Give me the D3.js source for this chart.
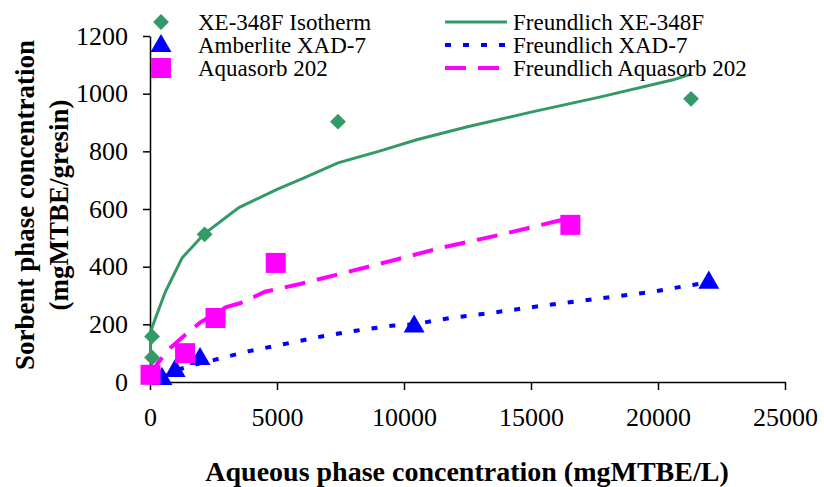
<!DOCTYPE html>
<html>
<head>
<meta charset="utf-8">
<script src="https://cdn.jsdelivr.net/npm/d3@7"></script>
<style>
  body { margin: 0; background: white; }
  svg text { font-family: "Liberation Serif", "Times New Roman", serif; }
</style>
</head>
<body>
<div id="container"></div>
<script>
const xeC = [80, 80, 2150, 7400, 21300]
const xeQ = [85, 158, 512, 903, 982]
const xadC = [470, 990, 1970, 10400, 22000]
const xadQ = [14, 42, 83, 196, 348]
const aquaC = [20, 1380, 2580, 4950, 16550]
const aquaQ = [25, 100, 222, 413, 545]

// Freundlich fit lines
const fitXeC = [10, 40, 600, 1260, 2150, 3500, 5000, 6000, 7400, 9000, 10500, 12500, 15000, 17700, 20600, 21300]
const fitXeQ = [80, 180, 312, 430, 515, 605, 668, 705, 760, 800, 840, 885, 936, 988, 1048, 1068]
const fitXadC = [470, 1000, 2000, 2500, 3900, 5300, 6700, 8100, 9500, 10400, 11800, 13300, 15400, 16800, 19700, 21300, 22000]
const fitXadQ = [15, 40, 66, 76, 107, 132, 157, 178, 195, 200, 222, 238, 264, 280, 312, 336, 345]
const fitAquaC = [20, 300, 800, 1400, 1970, 3000, 3540, 4530, 5900, 7800, 9500, 11300, 13900, 16500]
const fitAquaQ = [25, 65, 118, 165, 206, 260, 273, 313, 340, 382, 420, 462, 513, 568]

const xTicks = [0, 5000, 10000, 15000, 20000, 25000]
const yTicks = [0, 200, 400, 600, 800, 1000, 1200]

const GREEN = '#339966'
const BLUE = '#0000ff'
const MAGENTA = '#ff00ff'

var width = 824
var height = 487
var plotLeft = 150, plotRight = 785, plotTop = 36, plotBottom = 382

var svg = d3.select('#container').append('svg')
    .attr('width', width)
    .attr('height', height)

var x = d3.scaleLinear().domain([0, 25000]).range([plotLeft, plotRight])
var y = d3.scaleLinear().domain([0, 1200]).range([plotBottom, plotTop])

// axes
var yAxis = svg.append('g')
    .attr('transform', 'translate(' + plotLeft + ',0)')
    .call(d3.axisLeft(y).tickValues(yTicks).tickSize(7).tickSizeOuter(0).tickPadding(15).tickFormat(d3.format('d')))
var xAxis = svg.append('g')
    .attr('transform', 'translate(0,' + plotBottom + ')')
    .call(d3.axisBottom(x).tickValues(xTicks).tickSize(8).tickSizeOuter(0).tickPadding(18).tickFormat(d3.format('d')))

svg.selectAll('.domain, .tick line').attr('stroke', 'black').attr('stroke-width', 1.5)
svg.selectAll('.tick text')
    .style('font-family', '"Liberation Serif", serif')
    .style('font-size', '26px')
    .attr('fill', 'black')

function pts(cs, qs) {
    return cs.map(function(c, i) { return [c, qs[i]] })
}

var line = d3.line()
    .x(function(d) { return x(d[0]) })
    .y(function(d) { return y(d[1]) })

var fits = [
    {data: pts(fitXeC, fitXeQ), color: GREEN, width: 3, dash: null},
    {data: pts(fitXadC, fitXadQ), color: BLUE, width: 4, dash: '6,12'},
    {data: pts(fitAquaC, fitAquaQ), color: MAGENTA, width: 4, dash: '21,12'}
]

fits.forEach(function(f) {
    svg.append('path')
        .datum(f.data)
        .attr('d', line)
        .attr('fill', 'none')
        .attr('stroke', f.color)
        .attr('stroke-width', f.width)
        .attr('stroke-dasharray', f.dash)
})

var diamond = d3.symbol().type(d3.symbolDiamond2).size(160)
var triangle = d3.symbol().type(d3.symbolTriangle).size(190)

svg.selectAll('.xe')
    .data(pts(xeC, xeQ))
    .enter().append('path')
    .attr('d', diamond)
    .attr('transform', function(d) { return 'translate(' + x(d[0]) + ',' + y(d[1]) + ')' })
    .attr('fill', GREEN)

svg.selectAll('.xad')
    .data(pts(xadC, xadQ))
    .enter().append('path')
    .attr('d', triangle)
    .attr('transform', function(d) { return 'translate(' + x(d[0]) + ',' + (y(d[1]) + 1) + ')' })
    .attr('fill', BLUE)

svg.selectAll('.aqua')
    .data(pts(aquaC, aquaQ))
    .enter().append('rect')
    .attr('x', function(d) { return x(d[0]) - 10 })
    .attr('y', function(d) { return y(d[1]) - 10 })
    .attr('width', 20)
    .attr('height', 20)
    .attr('fill', MAGENTA)

// legend
var legendNames = ['XE-348F Isotherm', 'Amberlite XAD-7', 'Aquasorb 202']
var fitNames = ['Freundlich XE-348F', 'Freundlich XAD-7', 'Freundlich Aquasorb 202']
var rowY = [22, 45, 68]

var leg = svg.append('g').style('font-size', '23px')

leg.append('path').attr('d', diamond).attr('transform', 'translate(161,' + rowY[0] + ')').attr('fill', GREEN)
leg.append('path').attr('d', triangle).attr('transform', 'translate(161,' + (rowY[1] + 1) + ')').attr('fill', BLUE)
leg.append('rect').attr('x', 151).attr('y', rowY[2] - 10).attr('width', 20).attr('height', 20).attr('fill', MAGENTA)

legendNames.forEach(function(n, i) {
    leg.append('text').attr('x', 198).attr('y', rowY[i] + 8).text(n)
})

fits.forEach(function(f, i) {
    leg.append('line')
        .attr('x1', 445).attr('x2', 507)
        .attr('y1', rowY[i]).attr('y2', rowY[i])
        .attr('stroke', f.color)
        .attr('stroke-width', f.width)
        .attr('stroke-dasharray', f.dash)
    leg.append('text').attr('x', 513).attr('y', rowY[i] + 8).text(fitNames[i])
})

// axis titles
svg.append('text')
    .attr('x', 467)
    .attr('y', 481)
    .attr('text-anchor', 'middle')
    .style('font-weight', 'bold')
    .style('font-size', '28px')
    .text('Aqueous phase concentration (mgMTBE/L)')

var yt = svg.append('g')
    .attr('transform', 'translate(0,205) rotate(-90)')
    .attr('text-anchor', 'middle')
    .style('font-weight', 'bold')
    .style('font-size', '27px')
yt.append('text').attr('x', 0).attr('y', 34).text('Sorbent phase concentration')
yt.append('text').attr('x', 0).attr('y', 68).text('(mgMTBE/gresin)')
</script>
</body>
</html>
